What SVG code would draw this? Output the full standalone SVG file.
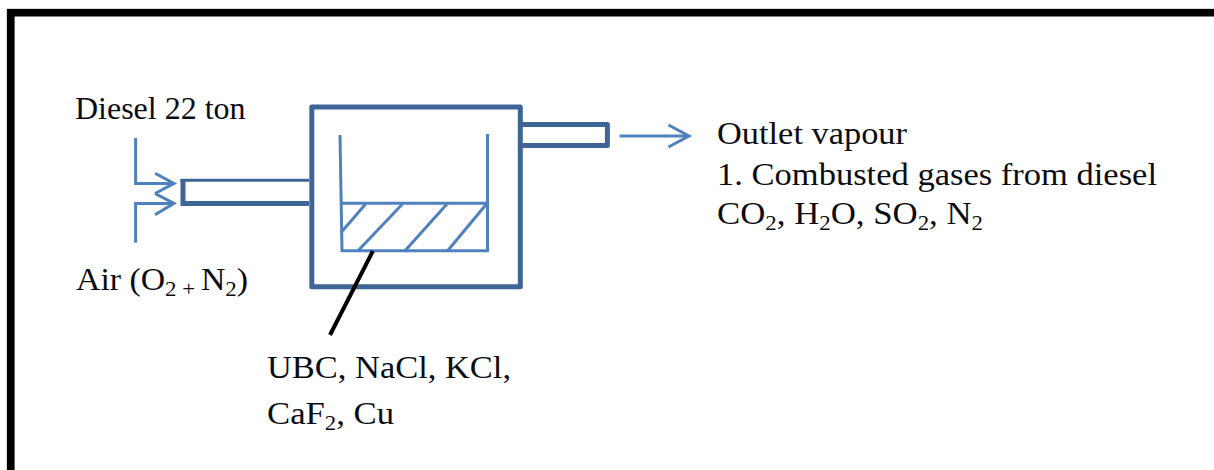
<svg xmlns="http://www.w3.org/2000/svg" width="1214" height="470" viewBox="0 0 1214 470">
<style>
text{font-family:"Liberation Serif","Times New Roman",serif;font-size:32px;fill:#0b0b12}
.sm{font-size:31px}
.sub{font-size:21px}
.dark{fill:none;stroke:#3e6596;stroke-width:5;stroke-linejoin:round}
.thin{fill:none;stroke:#4f81bd;stroke-width:3;stroke-linejoin:miter}
</style>
<rect width="1214" height="470" fill="#fff"/>
<g id="frame">
<path d="M6.5 470V8.5H1214" fill="none" stroke="#d9d9d9" stroke-width="1"/>
<path d="M10.8 470V12.8H1214" fill="none" stroke="#000" stroke-width="7.6"/>
</g>
<g id="furnace">
<rect x="311.8" y="107" width="208.5" height="179.8" class="dark"/>
<path d="M520 124.6H607.4V145.4H520" class="dark"/>
<path d="M309 180.3H180.5" fill="none" stroke="#3e6596" stroke-width="3"/>
<path d="M183 179V203.5H309" fill="none" stroke="#3e6596" stroke-width="5"/>
</g>
<g id="crucible">
<path d="M340 135L342 250.7H487.5V134" class="thin"/>
<path d="M341.5 203.3H487.5" class="thin"/>
<path d="M365.6 204L342.4 231M402.5 204L358 250.7M447 204L405 250.7M486.5 204L447.6 250.7" class="thin"/>
</g>
<g id="connectors">
<path d="M135.6 138V183.4H174M155 173.3L174 183.4L155 193.5" class="thin"/>
<path d="M135.6 242.7V203.4H174M155 193.5L174 203.4L155 214.7" class="thin"/>
<path d="M619.6 136H689M668.5 125L689 136L668.5 147" class="thin"/>
<path d="M372.9 251L330 335" fill="none" stroke="#000" stroke-width="4"/>
</g>
<g id="label-diesel"><text class="sm" x="75" y="119" textLength="170.5" lengthAdjust="spacingAndGlyphs">Diesel 22 ton</text></g>
<g id="label-air"><text class="sm" x="76" y="290" textLength="172" lengthAdjust="spacingAndGlyphs">Air (O<tspan class="sub" dy="6">2</tspan><tspan class="sub" dy="0"> + </tspan><tspan dy="-6">N</tspan><tspan class="sub" dy="6">2</tspan><tspan dy="-6">)</tspan></text></g>
<g id="label-outlet">
<text x="717" y="144" textLength="190" lengthAdjust="spacingAndGlyphs">Outlet vapour</text>
<text x="717" y="185" textLength="440" lengthAdjust="spacingAndGlyphs">1. Combusted gases from diesel</text>
<text x="717" y="224" textLength="266" lengthAdjust="spacingAndGlyphs">CO<tspan class="sub" dy="6">2</tspan><tspan dy="-6">, H</tspan><tspan class="sub" dy="6">2</tspan><tspan dy="-6">O, SO</tspan><tspan class="sub" dy="6">2</tspan><tspan dy="-6">, N</tspan><tspan class="sub" dy="6">2</tspan></text>
</g>
<g id="label-charge">
<text x="267" y="378" textLength="244" lengthAdjust="spacingAndGlyphs">UBC, NaCl, KCl,</text>
<text x="267" y="424" textLength="127" lengthAdjust="spacingAndGlyphs">CaF<tspan class="sub" dy="6">2</tspan><tspan dy="-6">, Cu</tspan></text>
</g>
</svg>
